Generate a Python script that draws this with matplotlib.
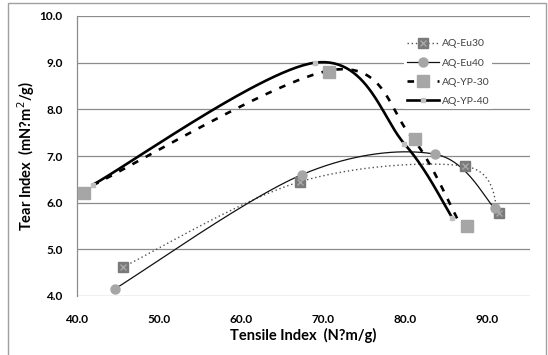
import numpy as np
import matplotlib
matplotlib.use("Agg")
import matplotlib.pyplot as plt
from matplotlib.lines import Line2D
from matplotlib.patches import Rectangle
from matplotlib.legend_handler import HandlerTuple

plt.rcParams['font.family'] = ['Lato', 'DejaVu Sans']

# ---- data ----
eu30_x = [45.6, 67.2, 87.3, 91.4]
eu30_y = [4.62, 6.45, 6.78, 5.77]
eu40_x = [44.6, 67.4, 83.6, 90.9]
eu40_y = [4.15, 6.60, 7.04, 5.88]
yp30_x = [40.9, 70.65, 81.2, 87.5]
yp30_y = [6.21, 8.80, 7.36, 5.50]
yp30_line_x = [41.9, 71.0, 80.6, 86.5]
yp30_line_y = [6.37, 8.84, 7.45, 5.60]
yp40_x = [41.9, 69.0, 79.9, 85.7]
yp40_y = [6.38, 9.00, 7.26, 5.68]

labels = ['AQ-Eu30', 'AQ-Eu40', 'AQ-YP-30', 'AQ-YP-40']
x_ticks = [40, 50, 60, 70, 80, 90]
y_ticks = [4, 5, 6, 7, 8, 9, 10]

W, H = 548, 355
fig = plt.figure(figsize=(W / 100, H / 100), dpi=100)
ax = fig.add_axes([77 / W, 1 - 296 / H, (530 - 77) / W, (296 - 16) / H])
ax.set_xlim(40, 95.2)
ax.set_ylim(4, 10)

def smooth(x, y, n=60):
    pts = ax.transData.transform(np.column_stack([x, y]))
    P = np.vstack([pts[0], pts, pts[-1]])
    out = []
    t = np.linspace(0, 1, n)[:, None]
    for i in range(1, len(P) - 2):
        p0, p1, p2, p3 = P[i - 1], P[i], P[i + 1], P[i + 2]
        c1 = p1 + (p2 - p0) / 6
        c2 = p2 - (p3 - p1) / 6
        seg = (1 - t) ** 3 * p1 + 3 * (1 - t) ** 2 * t * c1 + 3 * (1 - t) * t ** 2 * c2 + t ** 3 * p2
        out.append(seg)
    c = ax.transData.inverted().transform(np.vstack(out))
    return c[:, 0], c[:, 1]

grid_c = '#8c8c8c'
for yv in y_ticks:
    ax.axhline(yv, color=grid_c, lw=0.9, zorder=1)
for s in ['top', 'right', 'bottom']:
    ax.spines[s].set_visible(False)
ax.spines['left'].set_color(grid_c)
ax.spines['left'].set_linewidth(0.9)

# Eu30
sx, sy = smooth(eu30_x, eu30_y)
ax.plot(sx, sy, color='#505050', lw=1.0, ls=(0, (1, 2)), zorder=2)
ax.plot(eu30_x, eu30_y, ls='none', marker='s', ms=7, mfc='#7a7a7a', mec='#7a7a7a', zorder=4)
ax.plot(eu30_x, eu30_y, ls='none', marker='x', ms=4.5, mew=1, mec='#a8a8a8', zorder=5)
# Eu40
sx, sy = smooth(eu40_x, eu40_y)
ax.plot(sx, sy, color='#111111', lw=0.9, zorder=2)
ax.plot(eu40_x, eu40_y, ls='none', marker='o', ms=6.5, mfc='#a6a6a6', mec='#a6a6a6', zorder=4)
# YP-30
sx, sy = smooth(yp30_line_x, yp30_line_y)
ax.plot(sx, sy, color='black', lw=1.9, ls=(0, (2.5, 3.2)), zorder=3)
ax.plot(yp30_x, yp30_y, ls='none', marker='s', ms=8.5, mfc='#a6a6a6', mec='#a6a6a6', zorder=4)
# YP-40
sx, sy = smooth(yp40_x, yp40_y)
ax.plot(sx, sy, color='black', lw=1.9, zorder=3)
ax.plot(yp40_x, yp40_y, ls='none', marker='s', ms=3, mfc='#c0c0c0', mec='#c0c0c0', zorder=4)

ax.set_xticks(x_ticks)
ax.set_xticklabels([f'{v:.1f}' for v in x_ticks], fontweight='bold', fontsize=8.5)
ax.set_yticks(y_ticks)
ax.set_yticklabels([f'{v:.1f}' for v in y_ticks], fontweight='bold', fontsize=8.5)
ax.tick_params(axis='both', length=0)
ax.tick_params(axis='x', pad=13)
ax.tick_params(axis='y', pad=10.5)

fig.text(303.5 / W, 1 - 335 / H, 'Tensile Index  (N?m/g)', ha='center', va='center',
         fontsize=10.5, fontweight='bold')
fig.text(26 / W, 1 - 156 / H, r'Tear Index  (mN?m$^{2}$/g)', ha='center', va='center',
         rotation=90, fontsize=10.5, fontweight='bold')

# legend
h1 = (Line2D([], [], color='#505050', lw=1.0, ls=(0, (1, 2))),
      Line2D([], [], ls='none', marker='s', ms=7, mfc='#7a7a7a', mec='#7a7a7a'),
      Line2D([], [], ls='none', marker='x', ms=4.5, mew=1, mec='#a8a8a8'))
h2 = Line2D([], [], color='#111111', lw=0.9, marker='o', ms=6.5, mfc='#a6a6a6', mec='#a6a6a6')
h3 = Line2D([], [], color='black', lw=1.9, ls=(0, (2.5, 3.2)), marker='s', ms=8.5,
            mfc='#a6a6a6', mec='#a6a6a6')
h4 = Line2D([], [], color='black', lw=1.9, marker='s', ms=3, mfc='#c0c0c0', mec='#c0c0c0')
leg = ax.legend([h1, h2, h3, h4], labels, loc='upper left',
                bbox_to_anchor=(404 / W, 1 - 36 / H), bbox_transform=fig.transFigure,
                handler_map={tuple: HandlerTuple(ndivide=1, pad=0)},
                fontsize=7.5, frameon=True, fancybox=False, framealpha=1,
                facecolor='white', edgecolor='none', handlelength=3.1,
                handletextpad=0.2, labelspacing=0.95, borderpad=0.3, borderaxespad=0)
for t in leg.get_texts():
    t.set_color('#404040')
leg.set_zorder(6)

fig.patches.append(Rectangle((8 / W, -0.02), (546 - 8) / W, 1.02 - 3 / H,
                             transform=fig.transFigure, fill=False,
                             edgecolor='#a0a0a0', lw=1.0))

fig.savefig('out.png', dpi=100)
